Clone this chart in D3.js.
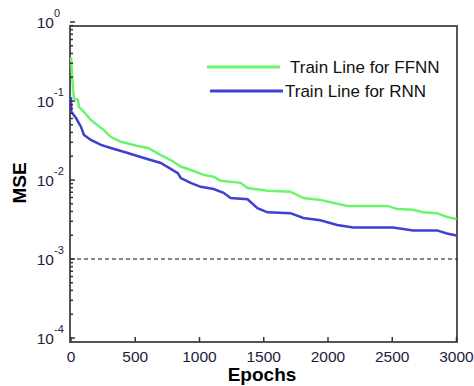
<!DOCTYPE html>
<html>
<head>
<meta charset="utf-8">
<script src="https://cdn.jsdelivr.net/npm/d3@7"></script>
<style>
  body { margin: 0; background: #fff; }
  text { font-family: Arial, "Liberation Sans", sans-serif; }
</style>
</head>
<body>
<div id="chart"></div>
<script>
// Chart data
var ffnnEpochs = [0, 16, 23, 54, 62, 101, 155, 256, 310, 388, 520, 598, 699, 776, 854, 955, 1032, 1110, 1164, 1320, 1374, 1529, 1708, 1808, 1940, 2072, 2150, 2461, 2538, 2662, 2740, 2848, 2926, 3000];
var ffnnMSE = [0.36, 0.138, 0.109, 0.103, 0.084, 0.0726, 0.0575, 0.0428, 0.035, 0.0305, 0.0269, 0.0254, 0.0207, 0.0179, 0.0148, 0.013, 0.0116, 0.011, 0.0098, 0.0092, 0.0079, 0.0073, 0.0071, 0.0059, 0.0056, 0.005, 0.0047, 0.0047, 0.0043, 0.0042, 0.0039, 0.0038, 0.0034, 0.0032];

var rnnEpochs = [0, 2, 39, 78, 101, 155, 233, 310, 442, 567, 699, 831, 854, 931, 1009, 1110, 1187, 1242, 1374, 1451, 1529, 1708, 1808, 1940, 2072, 2196, 2507, 2662, 2848, 2926, 3000];
var rnnMSE = [0.112, 0.073, 0.0609, 0.047, 0.0372, 0.0321, 0.0278, 0.0254, 0.022, 0.019, 0.0164, 0.0122, 0.0106, 0.0092, 0.0082, 0.0077, 0.0069, 0.0059, 0.0057, 0.0044, 0.0039, 0.0038, 0.0033, 0.0031, 0.0027, 0.0025, 0.0025, 0.0023, 0.0023, 0.0021, 0.00198];

var xTicks = [0, 500, 1000, 1500, 2000, 2500, 3000];
var yExponents = [0, -1, -2, -3, -4];
var thresholdMSE = 1e-3;
var legendLabels = ["Train Line for FFNN", "Train Line for RNN"];

var svgWidth = 474;
var svgHeight = 386;

// plot frame
var frame = { left: 70, right: 457, top: 26, bottom: 342 };

var svg = d3.select("#chart")
  .append("svg")
  .attr("width", svgWidth)
  .attr("height", svgHeight);

var xScale = d3.scaleLinear()
  .domain([0, 3000])
  .range([71, 456.5]);

var yScale = d3.scaleLog()
  .domain([1e-4, 1])
  .range([338, 22]);

svg.append("clipPath").attr("id", "clip")
  .append("rect")
  .attr("x", frame.left - 2)
  .attr("y", frame.top)
  .attr("width", frame.right - frame.left + 2)
  .attr("height", frame.bottom - frame.top);

// frame
svg.append("rect")
  .attr("x", frame.left)
  .attr("y", frame.top)
  .attr("width", frame.right - frame.left)
  .attr("height", frame.bottom - frame.top)
  .attr("fill", "none")
  .attr("stroke", "#555")
  .attr("stroke-width", 2);

var plot = svg.append("g").attr("clip-path", "url(#clip)");

// dashed threshold line
plot.append("line")
  .attr("x1", frame.left)
  .attr("x2", frame.right)
  .attr("y1", yScale(thresholdMSE))
  .attr("y2", yScale(thresholdMSE))
  .attr("stroke", "#111")
  .attr("stroke-width", 1)
  .attr("stroke-dasharray", "4,3");

var line = d3.line()
  .x(d => xScale(d[0]))
  .y(d => yScale(d[1]));

var ffnnData = ffnnEpochs.map((e, i) => [e, ffnnMSE[i]]);
var rnnData = rnnEpochs.map((e, i) => [e, rnnMSE[i]]);

plot.append("path")
  .datum(ffnnData)
  .attr("d", line)
  .attr("fill", "none")
  .attr("stroke", "#6cf56c")
  .attr("stroke-width", 2.5);

plot.append("path")
  .datum(rnnData)
  .attr("d", line)
  .attr("fill", "none")
  .attr("stroke", "#3f3fd2")
  .attr("stroke-width", 2.5);

// x ticks (inward)
svg.selectAll(".xtick")
  .data(xTicks)
  .enter()
  .append("line")
  .attr("x1", d => xScale(d))
  .attr("x2", d => xScale(d))
  .attr("y1", frame.bottom)
  .attr("y2", frame.bottom - 5)
  .attr("stroke", "#333")
  .attr("stroke-width", 1.5);

svg.selectAll(".xlabel")
  .data(xTicks)
  .enter()
  .append("text")
  .attr("x", d => xScale(d))
  .attr("y", 362)
  .attr("text-anchor", "middle")
  .style("font-size", "15.5px")
  .style("fill", "#1c1c3c")
  .text(d => d);

// y ticks: major and minor
var minorVals = [];
yExponents.forEach(function (p) {
  if (p === 0) return;
  for (var k = 2; k <= 9; k++) minorVals.push(k * Math.pow(10, p));
});

svg.selectAll(".yminor")
  .data(minorVals)
  .enter()
  .append("line")
  .attr("x1", frame.left)
  .attr("x2", frame.left + 3)
  .attr("y1", d => yScale(d))
  .attr("y2", d => yScale(d))
  .attr("stroke", "#333")
  .attr("stroke-width", 1.5);

svg.selectAll(".ymajor")
  .data(yExponents)
  .enter()
  .append("line")
  .attr("x1", frame.left)
  .attr("x2", frame.left + 5)
  .attr("y1", d => yScale(Math.pow(10, d)))
  .attr("y2", d => yScale(Math.pow(10, d)))
  .attr("stroke", "#333")
  .attr("stroke-width", 1.5);

svg.selectAll(".ylabel")
  .data(yExponents)
  .enter()
  .append("text")
  .attr("x", 54)
  .attr("y", d => yScale(Math.pow(10, d)) + 6)
  .attr("text-anchor", "end")
  .style("font-size", "15.5px")
  .style("fill", "#1c1c3c")
  .text("10");

svg.selectAll(".yexp")
  .data(yExponents)
  .enter()
  .append("text")
  .attr("x", 54)
  .attr("y", d => yScale(Math.pow(10, d)) - 5)
  .style("font-size", "11px")
  .style("fill", "#1c1c3c")
  .text(d => d);

// axis titles
svg.append("text")
  .attr("transform", "translate(26, 183) rotate(-90)")
  .attr("text-anchor", "middle")
  .style("font-size", "19px")
  .style("font-weight", "bold")
  .text("MSE");

svg.append("text")
  .attr("x", 262)
  .attr("y", 381)
  .attr("text-anchor", "middle")
  .style("font-size", "19px")
  .style("font-weight", "bold")
  .text("Epochs");

// legend
var legendColors = ["#6cf56c", "#3f3fd2"];
var legendLineX = [[207, 280], [210, 283]];
var legendTextX = [290, 285];
var legendY = [67, 91];

legendLabels.forEach(function (label, i) {
  svg.append("line")
    .attr("x1", legendLineX[i][0])
    .attr("x2", legendLineX[i][1])
    .attr("y1", legendY[i])
    .attr("y2", legendY[i])
    .attr("stroke", legendColors[i])
    .attr("stroke-width", 3);
  svg.append("text")
    .attr("x", legendTextX[i])
    .attr("y", legendY[i] + 6)
    .style("font-size", "17px")
    .style("fill", "#111")
    .text(label);
});
</script>
</body>
</html>
